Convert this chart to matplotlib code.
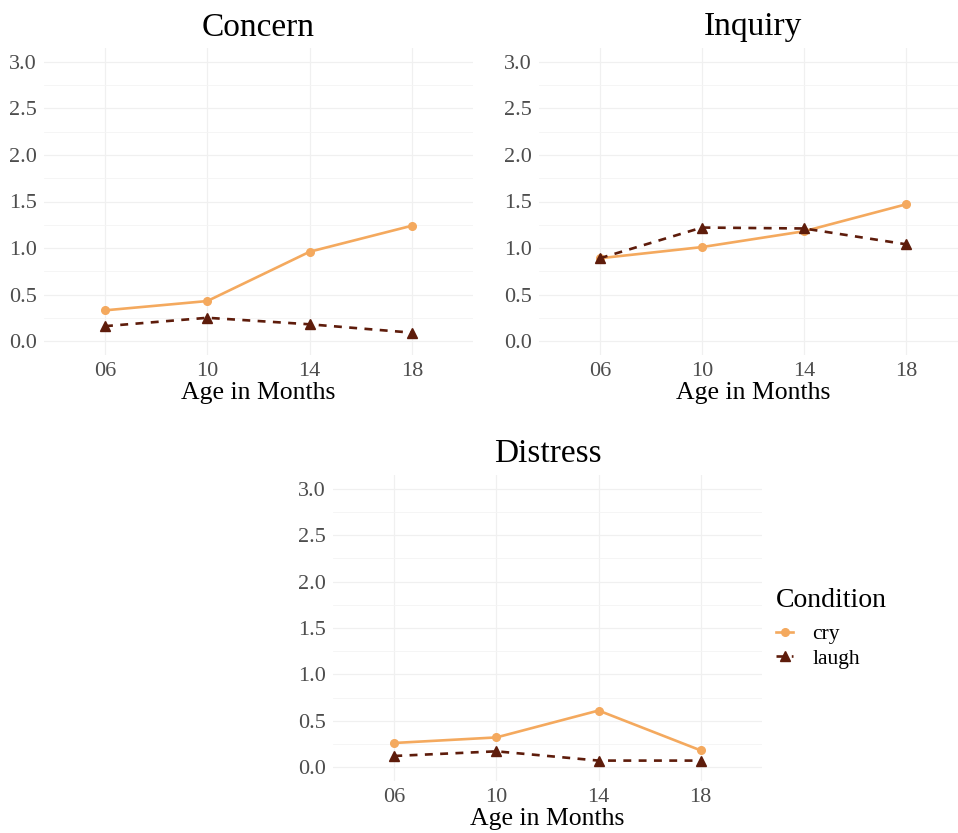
import matplotlib.pyplot as plt
import numpy as np

plt.rcParams['font.family'] = ['Liberation Serif', 'DejaVu Serif']

# data
ages = ["06", "10", "14", "18"]
conditions = ["cry", "laugh"]
concern_cry = [0.33, 0.43, 0.96, 1.24]
concern_laugh = [0.16, 0.25, 0.18, 0.09]
inquiry_cry = [0.89, 1.01, 1.18, 1.47]
inquiry_laugh = [0.89, 1.22, 1.21, 1.04]
distress_cry = [0.26, 0.32, 0.61, 0.18]
distress_laugh = [0.12, 0.17, 0.07, 0.07]

cry_col = "#F4A95E"
laugh_col = "#5E1C0B"
W, H = 958, 833


def px_axes(fig, x0, x1, y0, y1):
    # pixel box (top-left origin) -> figure fraction
    return fig.add_axes([x0 / W, 1 - y1 / H, (x1 - x0) / W, (y1 - y0) / H])


def panel(ax, title, cry, laugh):
    x = np.arange(1, len(ages) + 1)
    ax.plot(x, cry, color=cry_col, lw=1.9, marker="o", ms=5.5, label="cry", zorder=3)
    ax.plot(x, laugh, color=laugh_col, lw=1.9, ls=(0, (3, 2.8)), marker="^", ms=7,
            label="laugh", zorder=3)
    ax.set_xlim(0.4, 4.6)
    ax.set_ylim(-0.15, 3.15)
    ax.set_xticks(x)
    ax.set_xticklabels(ages)
    ax.set_yticks(np.arange(0, 3.01, 0.5))
    ax.set_yticklabels(["%.1f" % v for v in np.arange(0, 3.01, 0.5)])
    ax.set_yticks(np.arange(0.25, 3.0, 0.5), minor=True)
    ax.grid(True, which="major", color="#F0F0F0", lw=0.9)
    ax.grid(True, which="minor", axis="y", color="#F4F4F4", lw=0.6)
    ax.set_axisbelow(True)
    for s in ax.spines.values():
        s.set_visible(False)
    ax.tick_params(which="both", length=0, labelsize=16, labelcolor="#4D4D4D", pad=5)
    ax.set_title(title, fontsize=24, pad=9)
    ax.set_xlabel("Age in Months", fontsize=18.5, labelpad=1)


fig = plt.figure(figsize=(W / 100, H / 100), dpi=100)

ax1 = px_axes(fig, 43.6, 473.4, 48, 355)
panel(ax1, "Concern", concern_cry, concern_laugh)

ax2 = px_axes(fig, 538.6, 967.4, 48, 355)
panel(ax2, "Inquiry", inquiry_cry, inquiry_laugh)

ax3 = px_axes(fig, 333, 762, 475, 781)
panel(ax3, "Distress", distress_cry, distress_laugh)

leg = ax3.legend(title="Condition", loc="upper left", bbox_to_anchor=(776 / W, 1 - 588 / H),
                 bbox_transform=fig.transFigure, frameon=False, fontsize=15.5,
                 title_fontsize=20, handlelength=0.8, handletextpad=0.9,
                 labelspacing=0.2, borderpad=0, borderaxespad=0)
leg._legend_box.align = "left"
leg._legend_box.sep = 8

fig.savefig("out.png", dpi=100)
